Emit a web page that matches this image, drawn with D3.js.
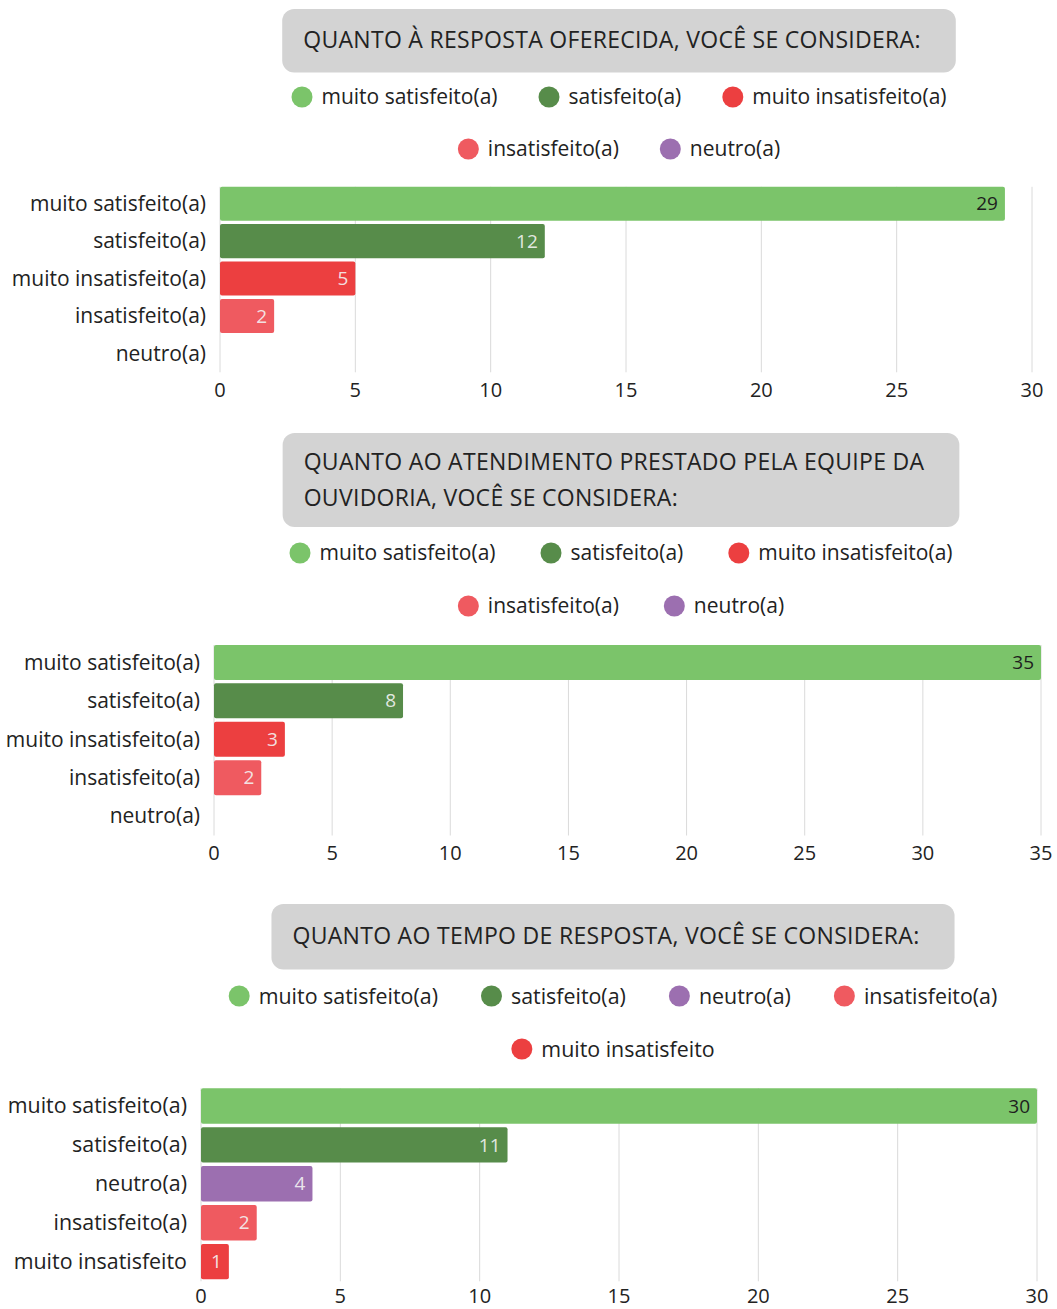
<!DOCTYPE html>
<html>
<head>
<meta charset="utf-8">
<script src="https://cdn.jsdelivr.net/npm/d3@7"></script>
<style>
  body { margin: 0; background: #fff; }
  svg { display: block; font-family: "Open Sans", sans-serif; }
</style>
</head>
<body>
<svg class="svg"></svg>
<script>
// data
const titles1 = ["QUANTO À RESPOSTA OFERECIDA, VOCÊ SE CONSIDERA:"];
const categories1 = ["muito satisfeito(a)", "satisfeito(a)", "muito insatisfeito(a)", "insatisfeito(a)", "neutro(a)"];
const values1 = [29, 12, 5, 2, 0];
const legendRows1 = [["muito satisfeito(a)", "satisfeito(a)", "muito insatisfeito(a)"], ["insatisfeito(a)", "neutro(a)"]];
const ticks1 = [0, 5, 10, 15, 20, 25, 30];

const titles2 = ["QUANTO AO ATENDIMENTO PRESTADO PELA EQUIPE DA", "OUVIDORIA, VOCÊ SE CONSIDERA:"];
const categories2 = ["muito satisfeito(a)", "satisfeito(a)", "muito insatisfeito(a)", "insatisfeito(a)", "neutro(a)"];
const values2 = [35, 8, 3, 2, 0];
const legendRows2 = [["muito satisfeito(a)", "satisfeito(a)", "muito insatisfeito(a)"], ["insatisfeito(a)", "neutro(a)"]];
const ticks2 = [0, 5, 10, 15, 20, 25, 30, 35];

const titles3 = ["QUANTO AO TEMPO DE RESPOSTA, VOCÊ SE CONSIDERA:"];
const categories3 = ["muito satisfeito(a)", "satisfeito(a)", "neutro(a)", "insatisfeito(a)", "muito insatisfeito"];
const values3 = [30, 11, 4, 2, 1];
const legendRows3 = [["muito satisfeito(a)", "satisfeito(a)", "neutro(a)", "insatisfeito(a)"], ["muito insatisfeito"]];
const ticks3 = [0, 5, 10, 15, 20, 25, 30];

const colorKeys = ["muito satisfeito(a)", "satisfeito(a)", "neutro(a)", "insatisfeito(a)", "muito insatisfeito(a)", "muito insatisfeito"];
const colorValues = ["#7bc46a", "#578c4a", "#9c6fb0", "#ef5a60", "#ec3f40", "#ec3f40"];

const color = d3.scaleOrdinal().domain(colorKeys).range(colorValues);
const textColor = "#222";

const svg = d3.select(".svg").attr("width", 1057).attr("height", 1309);

// layout of each panel (pixels)
const panels = [
  { titles: titles1, cats: categories1, vals: values1, legend: legendRows1, ticks: ticks1,
    cx: 619, boxTop: 9, boxH: 63.5, legendY: [97, 149], legendGap: 41, fs: 21,
    x0: 220, x1: 1032, yTop: 184.8, yBot: 372.3, tickY: 397 },
  { titles: titles2, cats: categories2, vals: values2, legend: legendRows2, ticks: ticks2,
    cx: 621, boxTop: 433, boxH: 94, legendY: [553, 606], legendGap: 45, fs: 21,
    x0: 214, x1: 1041, yTop: 643, yBot: 835.5, tickY: 860 },
  { titles: titles3, cats: categories3, vals: values3, legend: legendRows3, ticks: ticks3,
    cx: 613, boxTop: 904, boxH: 65.5, legendY: [996, 1049], legendGap: 43, fs: 21.4,
    x0: 201, x1: 1037, yTop: 1086.3, yBot: 1281.3, tickY: 1303 }
];

panels.forEach(drawPanel);

function drawPanel(p) {
  const g = svg.append("g");

  // title box
  const box = g.append("rect").attr("fill", "#d3d3d3").attr("rx", 12);
  const lines = g.selectAll("text.title")
    .data(p.titles)
    .join("text")
    .attr("class", "title")
    .attr("font-size", 23)
    .attr("fill", textColor)
    .attr("letter-spacing", 0.3)
    .text(d => d);
  const tw = d3.max(lines.nodes(), n => n.getComputedTextLength());
  const bw = tw + 56;
  const bx = p.cx - bw / 2;
  box.attr("x", bx).attr("y", p.boxTop).attr("width", bw).attr("height", p.boxH);
  const lh = 36;
  const firstBase = p.boxTop + p.boxH / 2 - (p.titles.length - 1) * lh / 2 + 7.5;
  lines.attr("x", bx + 21).attr("y", (d, i) => firstBase + i * lh);

  // legend
  p.legend.forEach((row, ri) => {
    const lg = g.append("g");
    let cur = 0;
    row.forEach((name) => {
      const item = lg.append("g").attr("transform", `translate(${cur},0)`);
      item.append("circle").attr("cx", 10.5).attr("cy", 0).attr("r", 10.5).attr("fill", color(name));
      const t = item.append("text")
        .attr("x", 30).attr("dy", "0.35em")
        .attr("font-size", p.fs).attr("fill", textColor)
        .text(name);
      cur += 30 + t.node().getComputedTextLength() + p.legendGap;
    });
    const total = cur - p.legendGap;
    lg.attr("transform", `translate(${p.cx - total / 2},${p.legendY[ri]})`);
  });

  // scales
  const x = d3.scaleLinear()
    .domain([0, d3.max(p.ticks)])
    .range([p.x0, p.x1]);
  const y = d3.scaleBand()
    .domain(p.cats)
    .range([p.yTop, p.yBot])
    .paddingInner(0.09)
    .paddingOuter(0.05);

  // grid
  g.append("g")
    .selectAll("line")
    .data(p.ticks)
    .join("line")
    .attr("x1", d => x(d)).attr("x2", d => x(d))
    .attr("y1", p.yTop + 2).attr("y2", p.yBot)
    .attr("stroke", "#dadada")
    .attr("stroke-width", 1);

  // bars
  const data = p.cats.map((c, i) => ({ cat: c, value: p.vals[i] }));
  g.append("g")
    .selectAll("rect")
    .data(data.filter(d => d.value > 0))
    .join("rect")
    .attr("x", x(0))
    .attr("y", d => y(d.cat))
    .attr("width", d => x(d.value) - x(0))
    .attr("height", y.bandwidth())
    .attr("rx", 2)
    .attr("fill", d => color(d.cat));

  // value labels
  g.append("g")
    .selectAll("text")
    .data(data.filter(d => d.value > 0))
    .join("text")
    .attr("x", d => x(d.value) - 7)
    .attr("y", d => y(d.cat) + y.bandwidth() / 2)
    .attr("dy", "0.35em")
    .attr("text-anchor", "end")
    .attr("font-size", 19)
    .attr("fill", d => d.cat === "muito satisfeito(a)" ? "#1e1e1e" : "#f4f4f4")
    .attr("fill-opacity", d => d.cat === "muito satisfeito(a)" ? 1 : 0.9)
    .text(d => d.value);

  // category labels
  g.append("g")
    .selectAll("text")
    .data(p.cats)
    .join("text")
    .attr("x", x(0) - 14)
    .attr("y", d => y(d) + y.bandwidth() / 2)
    .attr("dy", "0.35em")
    .attr("text-anchor", "end")
    .attr("font-size", p.fs)
    .attr("fill", textColor)
    .text(d => d);

  // tick labels
  g.append("g")
    .selectAll("text")
    .data(p.ticks)
    .join("text")
    .attr("x", d => x(d))
    .attr("y", p.tickY)
    .attr("text-anchor", "middle")
    .attr("font-size", 20)
    .attr("fill", textColor)
    .text(d => d);
}
</script>
</body>
</html>
